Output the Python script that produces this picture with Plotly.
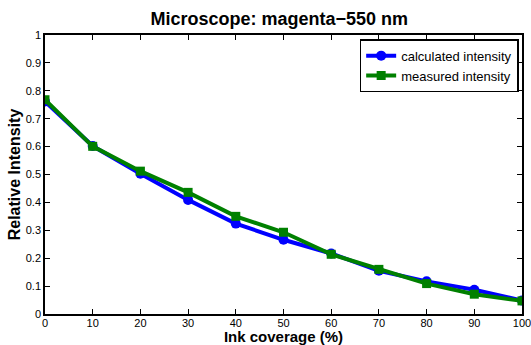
import plotly.graph_objects as go

ink_coverage = [0, 10, 20, 30, 40, 50, 60, 70, 80, 90, 100]
calculated_intensity = [0.762, 0.602, 0.503, 0.409, 0.324, 0.266, 0.217, 0.155, 0.117, 0.087, 0.048]
measured_intensity = [0.768, 0.601, 0.512, 0.436, 0.350, 0.293, 0.214, 0.160, 0.109, 0.071, 0.047]

x_ticks = [0, 10, 20, 30, 40, 50, 60, 70, 80, 90, 100]
y_ticks = [0, 0.1, 0.2, 0.3, 0.4, 0.5, 0.6, 0.7, 0.8, 0.9, 1]
y_tick_text = ["0", "0.1", "0.2", "0.3", "0.4", "0.5", "0.6", "0.7", "0.8", "0.9", "1"]

font = "Liberation Sans, Arial, sans-serif"

fig = go.Figure()
fig.add_trace(go.Scatter(
    x=ink_coverage, y=calculated_intensity, name="calculated intensity",
    mode="lines+markers",
    line=dict(color="#0000ff", width=4),
    marker=dict(symbol="circle", size=10, color="#0000ff"),
))
fig.add_trace(go.Scatter(
    x=ink_coverage, y=measured_intensity, name="measured intensity",
    mode="lines+markers",
    line=dict(color="#008000", width=4),
    marker=dict(symbol="square", size=9, color="#008000"),
))

axis_common = dict(
    showline=True, linecolor="black", linewidth=1.5, mirror="ticks",
    ticks="inside", ticklen=5, tickcolor="black", tickwidth=1,
    showgrid=False, zeroline=False, automargin=False,
    ticklabeloverflow="allow",
    tickfont=dict(family=font, size=11, color="black"),
)

fig.update_xaxes(range=[0, 100], tickvals=x_ticks, ticktext=[str(v) for v in x_ticks],
                 title=dict(text="<b>Ink coverage (%)</b>", font=dict(family=font, size=15, color="black"), standoff=0),
                 ticklabelstandoff=-2,
                 **axis_common)
fig.update_yaxes(range=[0, 1], tickvals=y_ticks, ticktext=y_tick_text,
                 title=dict(text="<b>Relative Intensity</b>", font=dict(family=font, size=16, color="black"), standoff=1),
                 ticklabelstandoff=0,
                 **axis_common)

fig.update_layout(
    width=531, height=345,
    margin=dict(l=45, r=9, t=35, b=31),
    paper_bgcolor="white", plot_bgcolor="white",
    title=dict(text="<b>Microscope: magenta\u2212550 nm</b>", x=0.526, xanchor="center",
               y=0.945, yanchor="middle",
               font=dict(family=font, size=18, color="black")),
    legend=dict(x=0.993, xanchor="right", y=0.985, yanchor="top",
                bordercolor="black", borderwidth=1.5, bgcolor="white",
                font=dict(family=font, size=13, color="black"),
                tracegroupgap=0, itemwidth=30),
    showlegend=True,
)

fig.write_html("out.html",
               config={"displayModeBar": False},
               post_script="document.body.style.margin='0';document.body.style.padding='0';document.body.style.overflow='hidden';")
